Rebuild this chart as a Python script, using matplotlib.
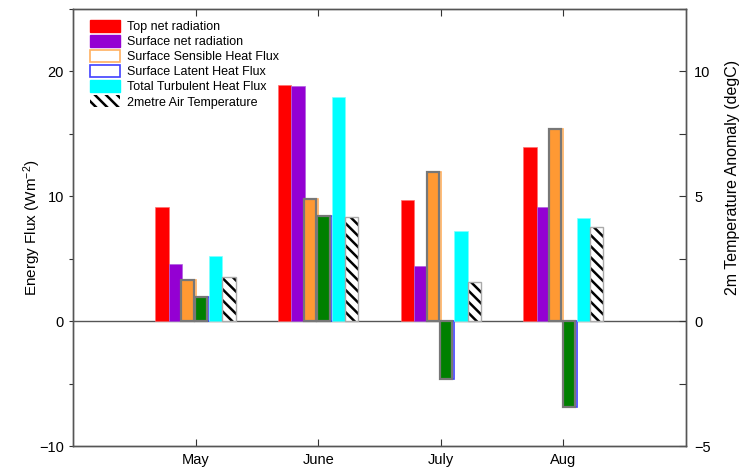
import numpy as np
import matplotlib
matplotlib.use("Agg")
import matplotlib.pyplot as plt
from matplotlib.patches import Patch
from matplotlib.ticker import MultipleLocator

plt.rcParams['font.family'] = ['Liberation Sans', 'DejaVu Sans']
plt.rcParams['mathtext.fontset'] = 'custom'
plt.rcParams['mathtext.rm'] = 'Liberation Sans'
plt.rcParams['mathtext.it'] = 'Liberation Sans:italic'
plt.rcParams['hatch.linewidth'] = 1.8

# monthly anomalies
months = ['May', 'June', 'July', 'Aug']
top_net = [9.1, 18.9, 9.7, 13.9]
surf_net = [4.6, 18.85, 4.4, 9.1]
sensible = [3.3, 9.8, 11.9, 15.35]
latent = [1.9, 8.4, -4.6, -6.9]
turbulent = [5.2, 17.95, 7.2, 8.25]
t2m = [1.75, 4.15, 1.55, 3.75]   # degC, right axis

x = np.arange(1, len(months) + 1)
w = 0.109
off = (np.arange(6) - 2.5) * w
shift = 0.011

fig = plt.figure(figsize=(7.4, 4.7), dpi=100)
ax = fig.add_axes([0.0986, 0.051, 0.8284, 0.9305])
ax2 = ax.twinx()

ax.axhline(0, color='#555555', lw=1.0, zorder=1)

ax.bar(x + off[0], top_net, w, color='#ff0000', edgecolor='#ff7070', lw=0.5, zorder=2)
ax.bar(x + off[1], surf_net, w, color='#9400d3', edgecolor='#b060e0', lw=0.5, zorder=2)
# outline bars for the two heat fluxes, with filled bars on top
ax.bar(x + off[2], sensible, w, color='white', edgecolor='#ffb060', lw=1.2, zorder=2)
ax.bar(x + off[3], latent, w, color='white', edgecolor='#4040ff', lw=1.2, zorder=2)
ax.bar(x + off[2] - shift, sensible, w * 0.92, color='#ff9933', edgecolor='#777777', lw=1.6, zorder=3)
ax.bar(x + off[3] - shift, latent, w * 0.92, color='#008000', edgecolor='#777777', lw=1.6, zorder=3)
ax.bar(x + off[4], turbulent, w, color='#00ffff', edgecolor='#80ffff', lw=0.5, zorder=2)

ax2.bar(x + off[5], t2m, w, color='white', edgecolor='black', hatch='\\\\\\', lw=0, zorder=2)
ax2.bar(x + off[5], t2m, w, color='none', edgecolor='#aaaaaa', lw=1.0, zorder=3)

ax.set_xlim(0, 5)
ax.set_ylim(-10, 25)
ax2.set_ylim(-5, 12.5)

ax.set_xticks(x)
ax.set_xticklabels(months, fontsize=10.5)
ax.yaxis.set_major_locator(MultipleLocator(10))
ax.yaxis.set_minor_locator(MultipleLocator(5))
ax2.yaxis.set_major_locator(MultipleLocator(5))
ax2.yaxis.set_minor_locator(MultipleLocator(2.5))

ax.tick_params(axis='x', direction='in', top=True, length=5, width=0.8, pad=5, colors='#333333', labelcolor='black')
ax.tick_params(axis='y', which='both', direction='out', length=3, width=0.8, labelsize=10.5, colors='#333333', labelcolor='black')
ax2.tick_params(axis='y', which='both', direction='in', length=5, width=0.8, labelsize=10.5, pad=6, colors='#333333', labelcolor='black')

for a in (ax, ax2):
    for s in a.spines.values():
        s.set_color('#555555')
        s.set_linewidth(1.0)

ax.set_ylabel(r'Energy Flux (Wm$^{-2}$)', fontsize=11)
ax2.set_ylabel('2m Temperature Anomaly (degC)', fontsize=11.5)
ax.yaxis.set_label_coords(-0.049, 0.5)
ax2.yaxis.set_label_coords(1.064, 0.615)

handles = [
    Patch(facecolor='#ff0000', edgecolor='#ff0000'),
    Patch(facecolor='#9400d3', edgecolor='#9400d3'),
    Patch(facecolor='white', edgecolor='#ffb060', lw=1.2),
    Patch(facecolor='white', edgecolor='#4040ff', lw=1.2),
    Patch(facecolor='#00ffff', edgecolor='#00ffff'),
    Patch(facecolor='white', edgecolor='black', hatch='\\\\\\', lw=0),
]
labels = ['Top net radiation', 'Surface net radiation', 'Surface Sensible Heat Flux',
          'Surface Latent Heat Flux', 'Total Turbulent Heat Flux', '2metre Air Temperature']
ax2.legend(handles, labels, loc='upper left', bbox_to_anchor=(0.027, 0.975),
           frameon=False, fontsize=9, handlelength=2.4, handleheight=1.1,
           handletextpad=0.6, labelspacing=0.15, borderpad=0, borderaxespad=0)

fig.savefig('out.png', dpi=100)
